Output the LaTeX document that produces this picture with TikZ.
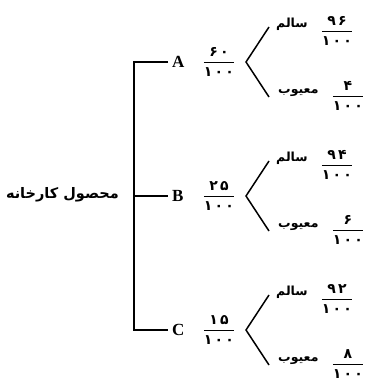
\documentclass[tikz,border=0pt]{standalone}
\usepackage{amsmath}
\usepackage{fontspec}
\setmainfont{Liberation Serif}
\newfontfamily\fa[Script=Arabic]{DejaVu Sans}
\newfontfamily\dg[Script=Arabic,LetterSpace=16]{DejaVu Sans}
\TeXXeTstate=1
\newcommand{\fr}[2]{$\genfrac{}{}{1pt}{0}{\hbox{\dg\bfseries #1}}{\hbox{\dg\bfseries #2}}$}
\tikzset{
  ln/.style={line width=1.5pt},
  abc/.style={font=\fontsize{17}{19}\selectfont\bfseries, inner sep=4pt},
  fa/.style={font=\fontsize{12.5}{14}\selectfont\fa\bfseries, inner sep=0pt},
  frn/.style={font=\fontsize{14}{16}\selectfont, inner sep=0pt}
}
\begin{document}
\begin{tikzpicture}[x=1pt,y=-1pt]
\useasboundingbox (0,0) rectangle (366,382);
\node[fa, anchor=east, font=\fontsize{14.5}{16}\selectfont\fa\bfseries] (root) at (119,195) {\beginR محصول کارخانه\endR};
\coordinate (jA) at (134,62);
\coordinate (jB) at (134,196);
\coordinate (jC) at (134,330);
\foreach \n/\y/\p/\s/\f/\t/\b in {A/62/۶۰/۹۶/۴/A/A,B/196/۲۵/۹۴/۶/B/B,C/330/۱۵/۹۲/۸/C/C}{
  \node[abc, anchor=west] (\n) at (168,\y) {\t};
  \node[frn] (f\n) at (219,\y) {\fr{\p}{۱۰۰}};
  \coordinate (v\n) at (246,\y);
  \coordinate (t\n) at (269,\y-35);
  \coordinate (b\n) at (269,\y+35);
  \node[fa, anchor=west] (s\n) at (276,\y-38) {سالم};
  \node[frn] (fs\n) at (337,\y-31) {\fr{\s}{۱۰۰}};
  \node[fa, anchor=west] (m\n) at (278,\y+31) {معیوب};
  \node[frn] (fm\n) at (348,\y+34) {\fr{\f}{۱۰۰}};
  \draw[ln] (t\n) -- (v\n) -- (b\n);
}
\draw[ln] (A.west) -- (jA) -- (jC) -- (C.west);
\draw[ln] (jB) -- (B.west);
\end{tikzpicture}
\end{document}
